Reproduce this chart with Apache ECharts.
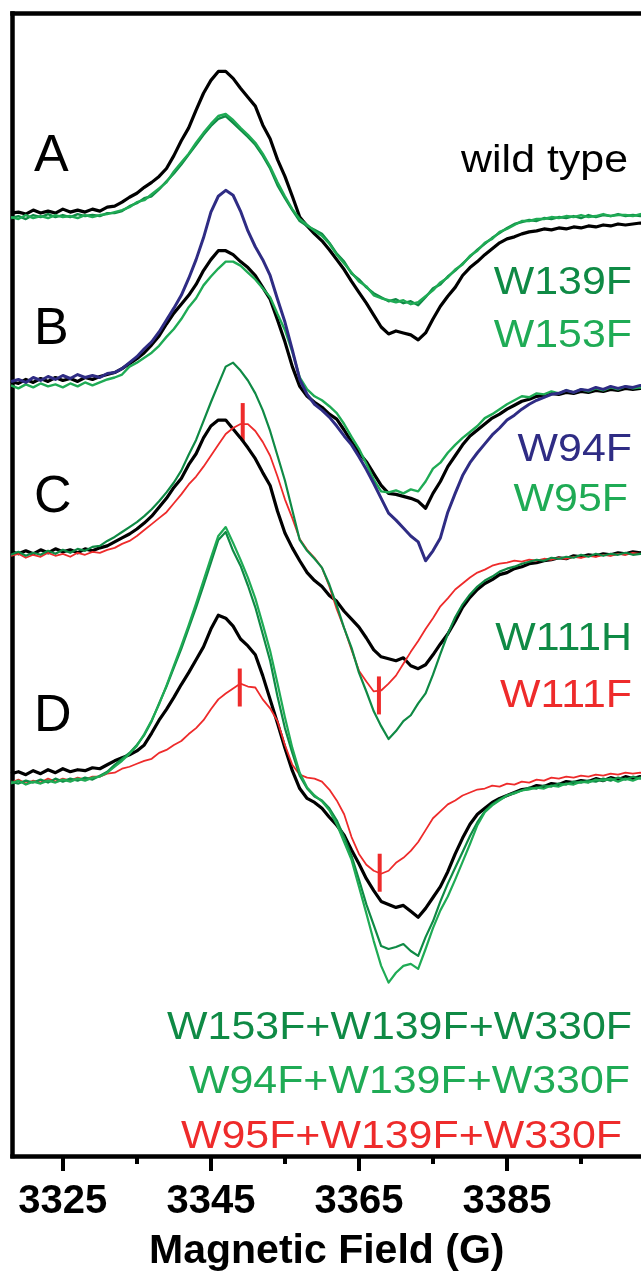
<!DOCTYPE html>
<html>
<head>
<meta charset="utf-8">
<script src="https://cdn.jsdelivr.net/npm/echarts@6/dist/echarts.min.js"></script>
<style>
  html, body { margin: 0; padding: 0; background: #fff; }
  #chart { width: 641px; height: 1277px; }
</style>
</head>
<body>
<div id="chart"></div>
<script>
// Magnetic field sweep (G), one sample per gauss
const fieldG = [3318,3319,3320,3321,3322,3323,3324,3325,3326,3327,3328,3329,3330,3331,3332,3333,3334,3335,3336,3337,
  3338,3339,3340,3341,3342,3343,3344,3345,3346,3347,3348,3349,3350,3351,3352,3353,3354,3355,3356,3357,
  3358,3359,3360,3361,3362,3363,3364,3365,3366,3367,3368,3369,3370,3371,3372,3373,3374,3375,3376,3377,
  3378,3379,3380,3381,3382,3383,3384,3385,3386,3387,3388,3389,3390,3391,3392,3393,3394,3395,3396,3397,
  3398,3399,3400,3401,3402,3403,3404];

const majorTicks = [3325, 3345, 3365, 3385];
const minorTicks = [3335, 3355, 3375, 3395];

// Vertical stacking offset of each panel (signal units)
const offsetA = 952;
const offsetB = 780;
const offsetC = 610;
const offsetD = 382;

// Panel A: wild type, W139F, W153F
const wtA = [0,1,-1,3,0,2,0,4,1,3, 1,4,2,6,7,11,16,20,26,31, 37,45,58,73,86,104,121,134,143,143,
  136,126,117,108,89,75,54,37,17,-4, -13,-21,-28,-37,-47,-57,-69,-80,-91,-103,
  -115,-122,-119,-121,-123,-128,-121,-107,-94,-84, -75,-63,-55,-49,-42,-36,-30,-26,-24,-21,
  -19,-18,-16,-17,-15,-16,-14,-15,-13,-14, -12,-13,-11,-12,-11,-10,-11];
const w139fA = [-5,-3,-6,-2,-4,-1,-4,-2,-4,-1, -3,-2,-3,0,0,2,7,10,15,17, 24,32,40,49,59,69,79,88,95,98,
  91,84,77,69,58,45,28,15,3,-8, -13,-17,-21,-30,-41,-49,-61,-67,-75,-81,
  -85,-89,-87,-91,-89,-93,-85,-76,-72,-64, -58,-51,-44,-37,-31,-25,-20,-15,-11,-9,
  -7,-8,-5,-6,-4,-5,-3,-5,-2,-4, -2,-3,-1,-3,-2,-3,-2];
const w153fA = [-4,-6,-2,-5,-3,-5,-2,-4,-3,-5, -2,-4,-2,-1,1,3,6,11,13,19, 25,31,42,51,60,71,81,90,98,100,
  94,86,79,71,60,47,31,17,4,-6, -12,-18,-23,-31,-42,-51,-60,-69,-74,-83,
  -86,-88,-90,-88,-92,-90,-84,-78,-70,-65, -57,-52,-43,-38,-30,-26,-19,-16,-12,-8,
  -8,-6,-6,-4,-5,-3,-4,-2,-4,-3, -1,-3,-2,-2,-3,-1,-2];

// Panel B: wild type, W94F, W95F
const wtB = [2,0,4,1,5,2,6,3,5,2, 6,4,7,9,11,15,20,25,31,39, 48,60,71,80,89,100,114,125,134,134,
  130,123,117,109,97,85,64,42,17,-3, -13,-19,-24,-31,-36,-47,-59,-70,-79,-91,
  -103,-111,-112,-114,-116,-119,-126,-111,-99,-84, -73,-62,-53,-47,-41,-35,-31,-26,-22,-18,
  -16,-13,-12,-10,-11,-9,-10,-8,-9,-7, -8,-6,-7,-5,-6,-5,-6];
const w94fB = [2,4,1,6,3,7,4,8,5,9, 6,8,6,10,11,15,21,27,35,42, 52,64,76,89,106,125,147,173,189,195,
  190,174,154,138,125,109,85,62,34,4, -11,-21,-27,-34,-43,-53,-62,-74,-87,-101,
  -116,-131,-138,-146,-154,-160,-179,-169,-156,-130, -111,-93,-80,-70,-61,-52,-45,-37,-32,-26,
  -21,-17,-14,-11,-10,-7,-9,-6,-7,-4, -6,-3,-5,-3,-4,-2,-4];
const w95fB = [-2,-5,-1,-4,0,-3,-1,-4,0,-3, 1,-2,1,4,6,9,17,21,26,31, 38,47,55,65,77,86,99,108,116,123,
  123,119,112,105,96,87,70,54,32,6, -6,-13,-17,-23,-30,-41,-54,-66,-81,-97,
  -109,-110,-108,-111,-107,-109,-99,-86,-80,-70, -62,-55,-49,-43,-35,-31,-26,-21,-17,-13,
  -14,-10,-11,-8,-10,-7,-9,-6,-8,-5, -7,-4,-6,-3,-5,-4,-5];

// Panel C: wild type, W111H, W111F
const wtC = [0,-2,1,-2,2,-1,3,0,2,-1, 3,1,4,6,10,14,18,23,29,36, 45,54,65,74,88,99,115,127,133,133,
  124,115,105,94,80,67,41,19,4,-9, -21,-29,-35,-44,-50,-60,-68,-76,-87,-99,
  -106,-108,-110,-107,-115,-118,-114,-104,-93,-83, -70,-56,-46,-38,-32,-28,-23,-21,-17,-15,
  -12,-11,-9,-8,-6,-7,-4,-5,-3,-4, -2,-3,-1,-2,0,-1,0];
const w111hC = [-3,0,-4,-1,-3,1,-2,2,-1,3, 1,5,6,11,15,20,25,30,36,43, 51,60,70,82,98,113,132,151,169,187,
  191,183,173,160,143,122,97,72,42,12, 1,-7,-16,-33,-54,-77,-97,-122,-141,-161,
  -176,-189,-181,-171,-165,-153,-143,-124,-103,-83, -66,-53,-43,-35,-29,-25,-20,-17,-15,-12,
  -10,-8,-9,-6,-7,-5,-6,-3,-5,-2, -4,-2,-3,-1,-3,-2,-3];
const w111fC = [-4,-2,-6,-3,-5,-1,-4,-2,-5,-1, -3,0,-1,2,4,8,11,16,22,28, 34,40,49,58,68,76,86,97,108,119,
  125,129,129,122,111,97,76,53,34,13, 2,-6,-16,-35,-58,-77,-99,-120,-131,-141,
  -140,-133,-125,-113,-101,-90,-78,-67,-55,-47, -38,-32,-26,-21,-18,-14,-12,-11,-9,-10,
  -8,-9,-7,-8,-6,-7,-5,-6,-4,-5, -3,-4,-2,-3,-1,-2,-1];

// Panel D: wild type and the three triple mutants
const wtD = [4,6,3,7,4,8,5,9,6,8, 7,10,9,13,17,20,23,27,33,45, 58,69,81,94,106,119,132,150,164,161,
  153,140,133,124,103,79,55,30,7,-11, -21,-25,-31,-40,-48,-58,-73,-87,-102,-114,
  -125,-128,-131,-129,-135,-141,-132,-121,-110,-95, -77,-61,-47,-37,-31,-25,-21,-18,-15,-12,
  -11,-8,-9,-6,-7,-4,-5,-3,-4,-1, -3,0,-2,1,-1,1,0];
const w153fTripleD = [-4,-6,-3,-5,-2,-5,-1,-4,-1,-3, 0,-2,2,6,13,19,25,33,43,57, 75,92,111,130,151,172,194,217,240,248,
  229,214,194,172,145,118,82,50,25,2, -11,-19,-23,-31,-43,-60,-79,-103,-128,-149,
  -170,-173,-171,-168,-175,-180,-161,-145,-125,-107, -91,-75,-59,-45,-34,-27,-22,-18,-15,-13,
  -10,-11,-8,-9,-6,-7,-4,-5,-3,-4, -1,-3,0,-2,1,-1,1];
const w94fTripleD = [-6,-3,-7,-4,-6,-3,-5,-2,-4,-1, -3,0,1,5,11,17,24,32,44,58, 74,93,113,133,154,176,199,222,244,253,
  237,220,202,181,155,128,95,61,30,5, -10,-18,-24,-33,-47,-65,-83,-110,-137,-165,
  -190,-207,-197,-190,-188,-193,-173,-152,-134,-120, -103,-85,-67,-48,-35,-28,-23,-18,-16,-13,
  -12,-10,-11,-8,-9,-6,-7,-4,-5,-2, -3,-1,-4,-1,-3,0,-1];
const w95fTripleD = [-5,-2,-6,-3,-5,-1,-4,-1,-3,0, -2,1,1,4,5,9,11,14,17,19, 25,28,33,37,44,50,58,69,79,85,
  90,95,92,91,79,70,57,33,13,3, 0,-1,-4,-12,-23,-37,-60,-77,-88,-94,
  -97,-94,-86,-81,-74,-65,-53,-41,-34,-27, -23,-18,-15,-12,-11,-8,-9,-6,-7,-4,
  -5,-2,-3,0,-1,1,0,2,1,3, 2,4,3,5,4,5,4];

// Red bars marking the turning points of the W111F / W95F traces
const markFieldsC = [3349.3, 3367.7];
const markAmpsC = [131, -145];
const markFieldsD = [3348.9, 3367.8];
const markAmpsD = [91, -96];

const panelLetters = ['A', 'B', 'C', 'D'];

const BLACK = '#000000';
const DARK_GREEN = '#0f8a45';
const LIGHT_GREEN = '#1fab55';
const NAVY = '#2f2c84';
const RED = '#ee2b2b';
const FONT = '"Liberation Sans", Arial, Helvetica, sans-serif';

// Field range shown across the frame (the frame continues past the right edge)
const FIELD_MIN = 3318.2;
const FIELD_MAX = 3403.1;

function trace(name, amps, offset, color, width) {
  return {
    type: 'line',
    name: name,
    xAxisIndex: 0,
    yAxisIndex: 0,
    data: fieldG.map((g, i) => [g, offset + amps[i]]),
    symbol: 'none',
    showSymbol: false,
    smooth: false,
    silent: true,
    animation: false,
    lineStyle: { color: color, width: width, join: 'round' }
  };
}

function marks(fields, amps, offset) {
  return {
    type: 'custom',
    silent: true,
    animation: false,
    data: fields.map((f, i) => [f, offset + amps[i]]),
    renderItem: function (params, api) {
      const p = api.coord([api.value(0), api.value(1)]);
      return {
        type: 'line',
        shape: { x1: p[0], y1: p[1] - 19, x2: p[0], y2: p[1] + 19 },
        style: { stroke: RED, lineWidth: 4 }
      };
    }
  };
}

function label(text, x, y, color, size, align, sx) {
  return {
    type: 'text',
    x: x, y: y,
    scaleX: sx, scaleY: 1,
    silent: true,
    style: {
      text: text, x: 0, y: 0,
      font: size + 'px ' + FONT,
      fill: color,
      align: align, textAlign: align,
      verticalAlign: 'middle', textVerticalAlign: 'middle'
    }
  };
}

const series = [
  trace('wild type', wtA, offsetA, BLACK, 3.2),
  trace('W139F', w139fA, offsetA, DARK_GREEN, 2.4),
  trace('W153F', w153fA, offsetA, LIGHT_GREEN, 2.4),

  trace('wild type', wtB, offsetB, BLACK, 3.2),
  trace('W95F', w95fB, offsetB, LIGHT_GREEN, 2.4),
  trace('W94F', w94fB, offsetB, NAVY, 3),

  trace('wild type', wtC, offsetC, BLACK, 3.2),
  trace('W111F', w111fC, offsetC, RED, 1.8),
  trace('W111H', w111hC, offsetC, DARK_GREEN, 2.2),
  marks(markFieldsC, markAmpsC, offsetC),

  trace('wild type', wtD, offsetD, BLACK, 3.2),
  trace('W95F+W139F+W330F', w95fTripleD, offsetD, RED, 1.8),
  trace('W153F+W139F+W330F', w153fTripleD, offsetD, DARK_GREEN, 2.2),
  trace('W94F+W139F+W330F', w94fTripleD, offsetD, LIGHT_GREEN, 2.2),
  marks(markFieldsD, markAmpsD, offsetD)
];

const letterY = [157, 330, 498, 717];
const graphics = panelLetters.map((t, i) => label(t, 34, letterY[i], BLACK, 52, 'left', 1));
graphics.push(
  label('wild type', 628, 161, BLACK, 39, 'right', 1.1),
  label('W139F', 632, 283, DARK_GREEN, 39, 'right', 1.1),
  label('W153F', 632, 336, LIGHT_GREEN, 39, 'right', 1.1),
  label('W94F', 632, 450, NAVY, 39, 'right', 1.1),
  label('W95F', 628, 500, LIGHT_GREEN, 39, 'right', 1.1),
  label('W111H', 632, 639, DARK_GREEN, 39, 'right', 1.1),
  label('W111F', 632, 696, RED, 39, 'right', 1.1),
  label('W153F+W139F+W330F', 632, 1028, DARK_GREEN, 39, 'right', 1.1),
  label('W94F+W139F+W330F', 630, 1082, LIGHT_GREEN, 39, 'right', 1.1),
  label('W95F+W139F+W330F', 622, 1137, RED, 39, 'right', 1.1)
);

const frameLine = { color: '#000', width: 4.5, cap: 'square' };

const chart = echarts.init(document.getElementById('chart'), null, { renderer: 'canvas' });
chart.setOption({
  animation: false,
  backgroundColor: '#ffffff',
  grid: {
    show: false,
    left: 12.5, top: 13.5, right: 0, bottom: 110,
    containLabel: false
  },
  xAxis: [
    {
      type: 'value',
      min: FIELD_MIN, max: FIELD_MAX,
      position: 'bottom',
      axisLine: { show: true, onZero: false, lineStyle: frameLine },
      axisTick: { show: true, customValues: majorTicks, length: 15, lineStyle: { color: '#000', width: 4 } },
      axisLabel: {
        show: true, customValues: majorTicks, margin: 26,
        formatter: function (v) { return String(Math.round(v)); },
        color: '#000', fontFamily: FONT, fontWeight: 'bold', fontSize: 40
      },
      splitLine: { show: false },
      name: 'Magnetic Field (G)',
      nameLocation: 'middle',
      nameGap: 75,
      nameTextStyle: { color: '#000', fontFamily: FONT, fontWeight: 'bold', fontSize: 41 }
    },
    {
      type: 'value',
      min: FIELD_MIN, max: FIELD_MAX,
      position: 'bottom',
      axisLine: { show: false },
      axisTick: { show: true, customValues: minorTicks, length: 8, lineStyle: { color: '#000', width: 4 } },
      axisLabel: { show: false },
      splitLine: { show: false }
    },
    {
      type: 'value',
      min: FIELD_MIN, max: FIELD_MAX,
      position: 'top',
      axisLine: { show: true, onZero: false, lineStyle: frameLine },
      axisTick: { show: false },
      axisLabel: { show: false },
      splitLine: { show: false }
    }
  ],
  yAxis: {
    type: 'value', min: 0, max: 1153.5,
    position: 'left',
    axisLine: { show: true, onZero: false, lineStyle: frameLine },
    axisTick: { show: false },
    axisLabel: { show: false },
    splitLine: { show: false }
  },
  series: series,
  graphic: { elements: graphics }
});
</script>
</body>
</html>
